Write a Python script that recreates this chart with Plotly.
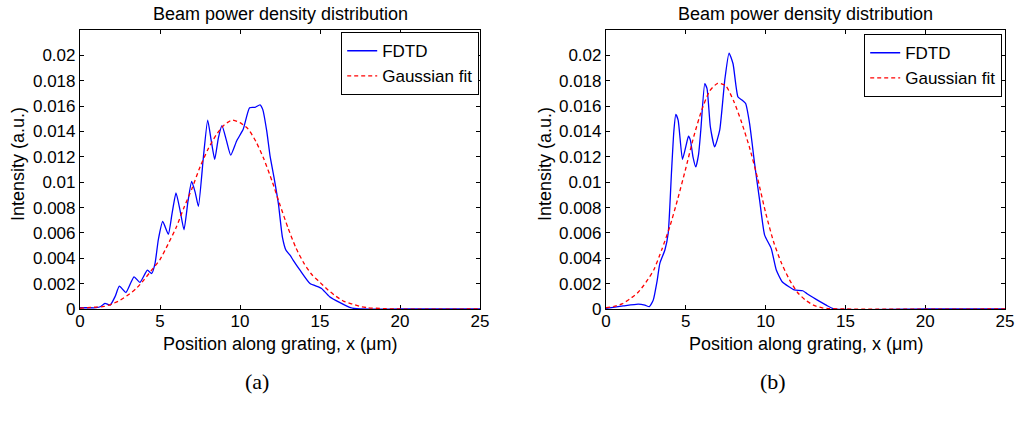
import plotly.graph_objects as go

# ---------------- data ----------------
# (a) FDTD
a_fdtd_x = [0, 0.5, 1.0, 1.3, 1.56, 1.88, 2.2, 2.46, 2.87, 3.375, 3.75, 4.21, 4.48, 4.69, 4.9,
            5.17, 5.52, 5.75, 6.0, 6.25, 6.5, 6.75, 6.98, 7.2, 7.4, 7.71, 7.98, 8.2, 8.42, 8.65,
            8.875, 9.15, 9.42, 9.79, 10.2, 10.6, 10.94, 11.25, 11.42, 11.67, 11.875, 12.125,
            12.4, 12.65, 12.875, 13.125, 13.33, 13.75, 14.375, 14.9, 15.1, 15.6, 16.25, 16.9,
            17.5, 20, 25]
a_fdtd_y = [0.0001, 0.0001, 0.0001, 0.0002, 0.00045, 0.0003, 0.0010, 0.0018, 0.0013, 0.00254,
            0.0021, 0.00306, 0.0028, 0.0036, 0.0055, 0.0069, 0.0059, 0.0075, 0.00915, 0.0078,
            0.00625, 0.0085, 0.01006, 0.0092, 0.0081, 0.01195, 0.0149, 0.0133, 0.0118, 0.0135,
            0.01446, 0.0133, 0.01213, 0.01325, 0.01417, 0.01587, 0.0159, 0.0161, 0.01574,
            0.01404, 0.0121, 0.01038, 0.0083, 0.00567, 0.00463, 0.00424, 0.00384, 0.00306,
            0.00201, 0.00175, 0.00162, 0.00097, 0.0005, 0.0001, 0.0, 0.0, 0.0]
# (a) Gaussian fit
a_fit_x = [0, 1, 1.5, 2, 2.5, 3, 3.5, 4, 4.5, 5, 5.5, 6, 6.5, 7, 7.5, 8, 8.5, 9, 9.5, 10, 10.5,
           11, 11.5, 12, 12.5, 13, 13.5, 14, 14.5, 15, 15.5, 16, 16.5, 17, 17.5, 18, 19, 20, 25]
a_fit_y = [0.00006, 0.00015, 0.0002, 0.0004, 0.00068, 0.0011, 0.0016, 0.0023, 0.0031, 0.0039,
           0.0051, 0.0064, 0.0080, 0.0095, 0.0112, 0.0126, 0.0137, 0.0145, 0.0149, 0.0147,
           0.0142, 0.0132, 0.0118, 0.0101, 0.0082, 0.0064, 0.0048, 0.0036, 0.0027, 0.0021,
           0.0015, 0.0010, 0.0006, 0.0004, 0.0002, 0.0001, 0.00003, 0.0, 0.0]

# (b) FDTD
b_fdtd_x = [0, 1.08, 2.02, 2.44, 2.71, 2.96, 3.2, 3.375, 3.69, 3.9, 4.1, 4.25, 4.375, 4.52,
            4.79, 5.0, 5.17, 5.29, 5.45, 5.625, 5.8, 5.94, 6.19, 6.33, 6.54, 6.81, 7.125, 7.44,
            7.71, 7.96, 8.27, 8.54, 8.75, 9.0, 9.31, 9.625, 9.94, 10.35, 10.67, 11.04, 11.46,
            11.8, 12.33, 12.6, 13.17, 13.8, 14.3, 20, 25]
b_fdtd_y = [0.00005, 0.00024, 0.00039, 0.0003, 0.00018, 0.0007, 0.0022, 0.0036, 0.00465,
            0.0060, 0.0107, 0.0140, 0.01535, 0.0149, 0.0118, 0.0128, 0.01362, 0.0133, 0.0120,
            0.0112, 0.0122, 0.0141, 0.01777, 0.01738, 0.01435, 0.01278, 0.0141, 0.01803,
            0.02018, 0.01934, 0.01672, 0.01646, 0.0162, 0.0146, 0.01147, 0.00858, 0.00583,
            0.00478, 0.00307, 0.00215, 0.00176, 0.0015, 0.00144, 0.0012, 0.00076, 0.0003,
            0.0, 0.0, 0.0]
# (b) Gaussian fit
b_fit_x = [0, 0.5, 1, 1.5, 2, 2.5, 3, 3.5, 4, 4.5, 5, 5.5, 6, 6.5, 7, 7.5, 8, 8.5, 9, 9.5, 10,
           10.5, 11, 11.5, 12, 12.5, 13, 13.5, 14, 15, 25]
b_fit_y = [0.0001, 0.0002, 0.0004, 0.0008, 0.0013, 0.0021, 0.0031, 0.0047, 0.0065, 0.0087,
           0.0111, 0.0136, 0.0157, 0.0172, 0.0178, 0.0176, 0.0164, 0.0147, 0.0127, 0.0103,
           0.0076, 0.0053, 0.0036, 0.0023, 0.0013, 0.0007, 0.0003, 0.0001, 0.00003, 0.0, 0.0]

x_ticks = [0, 5, 10, 15, 20, 25]
x_ticklabels = ["0", "5", "10", "15", "20", "25"]
y_ticks = [0, 0.002, 0.004, 0.006, 0.008, 0.01, 0.012, 0.014, 0.016, 0.018, 0.02]
y_ticklabels = ["0", "0.002", "0.004", "0.006", "0.008", "0.01", "0.012", "0.014",
                "0.016", "0.018", "0.02"]

title_text = "Beam power density distribution"
x_label = "Position along grating, x (\u03bcm)"
y_label = "Intensity (a.u.)"
series_names = ["FDTD", "Gaussian fit"]
captions = ["(a)", "(b)"]

# ---------------- figure ----------------
W, H = 1016, 424
SANS = "Liberation Sans, Arial, Helvetica, sans-serif"
SERIF = "Liberation Serif, Times New Roman, serif"
BLUE = "#0000ff"
RED = "#ff0000"

# pixel geometry of the two plot areas
L1, R1 = 80, 480
L2, R2 = 606, 1005
TOP, BOT = 30, 309

def px(xp):
    return xp / W

def py(yp):
    return 1 - yp / H

fig = go.Figure()

panels = [
    ("x", "y", a_fdtd_x, a_fdtd_y, a_fit_x, a_fit_y, "legend"),
    ("x2", "y2", b_fdtd_x, b_fdtd_y, b_fit_x, b_fit_y, "legend2"),
]
for xa, ya, fx, fy, gx, gy, leg in panels:
    fig.add_trace(go.Scatter(x=fx, y=fy, mode="lines", name=series_names[0],
                             line=dict(color=BLUE, width=1.3, shape="spline", smoothing=0.5),
                             xaxis=xa, yaxis=ya, legend=leg))
    fig.add_trace(go.Scatter(x=gx, y=gy, mode="lines", name=series_names[1],
                             line=dict(color=RED, width=1.3, dash="4px,3px",
                                       shape="spline", smoothing=0.6),
                             xaxis=xa, yaxis=ya, legend=leg))

axis_common = dict(showgrid=False, zeroline=False, showline=True, linecolor="black",
                   linewidth=1.2, mirror="ticks", ticks="inside", ticklen=4,
                   tickcolor="black", tickwidth=1, layer="below traces", automargin=False,
                   tickfont=dict(family=SANS, size=17, color="black"))

legend_common = dict(xanchor="right", yanchor="top", bgcolor="white", bordercolor="black",
                     borderwidth=1.2, font=dict(family=SANS, size=17, color="black"),
                     tracegroupgap=0, itemwidth=30)

fig.update_layout(
    template="none",
    width=W, height=H,
    margin=dict(l=0, r=0, t=0, b=0, pad=0),
    paper_bgcolor="white", plot_bgcolor="white",
    showlegend=True,
    xaxis=dict(domain=[px(L1), px(R1)], range=[0, 25], tickvals=x_ticks,
               ticktext=x_ticklabels, anchor="y", ticklabelstandoff=-4, **axis_common),
    yaxis=dict(domain=[py(BOT), py(TOP)], range=[0, 0.022], tickvals=y_ticks,
               ticktext=y_ticklabels, anchor="x", **axis_common),
    xaxis2=dict(domain=[px(L2), px(R2)], range=[0, 25], tickvals=x_ticks,
                ticktext=x_ticklabels, anchor="y2", ticklabelstandoff=-4, **axis_common),
    yaxis2=dict(domain=[py(BOT), py(TOP)], range=[0, 0.022], tickvals=y_ticks,
                ticktext=y_ticklabels, anchor="x2", **axis_common),
    legend=dict(x=px(R1 - 1), y=py(TOP + 2), **legend_common),
    legend2=dict(x=px(R2 - 3), y=py(TOP + 4), **legend_common),
)

annotations = []
for (L, R, cap_x, cap, ylx) in [(L1, R1, 257, captions[0], 18), (L2, R2, 773, captions[1], 545)]:
    cx = (L + R) / 2
    annotations.append(dict(text=title_text, x=px(cx), y=py(14), xref="paper", yref="paper",
                            showarrow=False, xanchor="center", yanchor="middle",
                            font=dict(family=SANS, size=18, color="black")))
    annotations.append(dict(text=x_label, x=px(cx), y=py(344), xref="paper", yref="paper",
                            showarrow=False, xanchor="center", yanchor="middle",
                            font=dict(family=SANS, size=18, color="black")))
    annotations.append(dict(text=y_label, x=px(ylx), y=py(164), xref="paper",
                            yref="paper", showarrow=False, textangle=-90,
                            xanchor="center", yanchor="middle",
                            font=dict(family=SANS, size=18, color="black")))
    annotations.append(dict(text=cap, x=px(cap_x), y=py(381), xref="paper", yref="paper",
                            showarrow=False, xanchor="center", yanchor="middle",
                            font=dict(family=SERIF, size=22, color="black")))
fig.update_layout(annotations=annotations)

fig.write_html("out.html")
